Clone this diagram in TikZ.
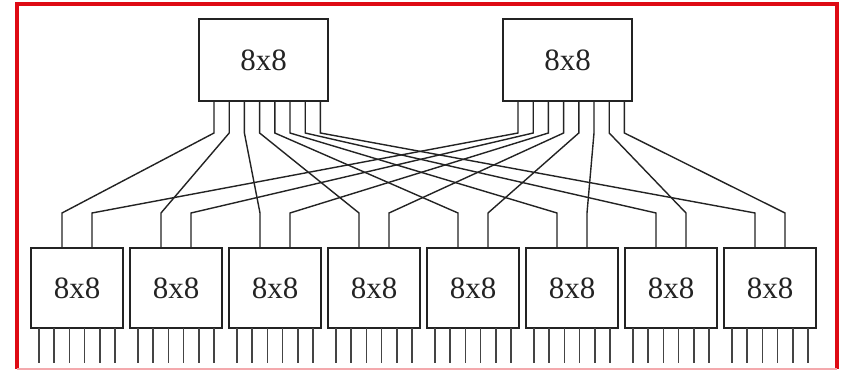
\documentclass[tikz,border=0pt]{standalone}
\usepackage{fontspec}
\setmainfont{Liberation Serif}
\definecolor{frame}{RGB}{222,10,20}
\definecolor{ink}{RGB}{35,35,35}
\begin{document}
\begin{tikzpicture}[x=1pt,y=-1pt,
  bigbox/.style={draw=ink, line width=1.6pt, minimum width=129pt, minimum height=82pt, inner sep=0pt, text=ink, font=\fontsize{31}{31}\selectfont},
  smallbox/.style={draw=ink, line width=1.6pt, minimum width=92pt, minimum height=80pt, inner sep=0pt, text=ink, font=\fontsize{31}{31}\selectfont},
  wire/.style={draw=ink, line width=1.4pt, line join=miter},
  pin/.style={draw=ink!85, line width=1.6pt}]
\useasboundingbox (0,0) rectangle (841,371);
\fill[white] (0,0) rectangle (841,371);
% red frame
\draw[frame, line width=4pt] (17,369) -- (17,4) -- (837,4) -- (837,369);
\draw[frame!35, line width=2pt] (17,369) -- (837,369);
% top boxes
\node[bigbox] (TL) at (263.5,60) {8x8};
\node[bigbox] (TR) at (567.5,60) {8x8};
% bottom boxes
\foreach \i in {1,...,8}{
  \node[smallbox] (B\i) at ({77+99*(\i-1)},288) {8x8};
  \coordinate (B\i a) at ({62+99*(\i-1)},248);
  \coordinate (B\i aa) at ({62+99*(\i-1)},213);
  \coordinate (B\i b) at ({92+99*(\i-1)},248);
  \coordinate (B\i bb) at ({92+99*(\i-1)},213);
  \foreach \j in {0,...,5}{
    \coordinate (B\i o\j) at ({39+99*(\i-1)+15.2*\j},328);
    \coordinate (B\i e\j) at ({39+99*(\i-1)+15.2*\j},363);
    \draw[pin] (B\i o\j) -- (B\i e\j);
  }
}
% top pins
\foreach \k in {1,...,8}{
  \coordinate (TL\k) at ({214+15.2*(\k-1)},101);
  \coordinate (TL\k b) at ({214+15.2*(\k-1)},133);
  \coordinate (TR\k) at ({518+15.2*(\k-1)},101);
  \coordinate (TR\k b) at ({518+15.2*(\k-1)},133);
}
% wires
\foreach \k in {1,...,8}{
  \draw[wire] (TL\k) -- (TL\k b) -- (B\k aa) -- (B\k a);
  \draw[wire] (TR\k) -- (TR\k b) -- (B\k bb) -- (B\k b);
}
\end{tikzpicture}
\end{document}
